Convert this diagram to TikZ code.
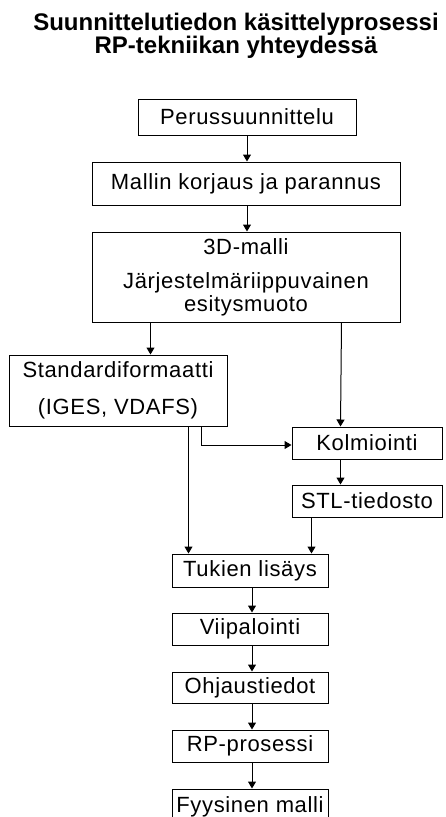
\documentclass[tikz,border=0pt]{standalone}
\usepackage{fontspec}
\setmainfont{Liberation Sans}[LetterSpace=3]
\newfontfamily\titlefont{Liberation Sans}[BoldFont={* Bold}]
\usetikzlibrary{arrows.meta,calc}
\tikzset{
  box/.style={draw, line width=1pt, inner sep=0pt, align=center,
    font=\fontsize{22}{23}\selectfont},
  arr/.style={line width=1pt, -{Triangle[length=7pt,width=8pt]}},
  ln/.style={line width=1pt},
}
\begin{document}
\begin{tikzpicture}[x=1pt,y=-1pt]
\useasboundingbox (0,0) rectangle (446,817);
\clip (0,0) rectangle (446,817);
\node[align=center, font=\titlefont\bfseries\fontsize{24}{20}\selectfont] (title) at (236,36)
  {Suunnittelutiedon käsittelyprosessi\\RP-tekniikan yhteydessä};
\node[box, minimum width=218pt, minimum height=36pt] (perus) at (247,117) {Perussuunnittelu};
\node[box, minimum width=308pt, minimum height=43pt] (mallin) at (246,183.5) {Mallin korjaus ja parannus};
\node[box, minimum width=308pt, minimum height=90pt] (m3d) at (246,277)
  {3D-malli\\[11pt]Järjestelmäriippuvainen\\esitysmuoto};
\node[box, minimum width=218pt, minimum height=71pt] (std) at (118,390.5)
  {Standardiformaatti\\[14pt](IGES, VDAFS)};
\node[box, minimum width=150pt, minimum height=32pt] (kolm) at (367,443) {Kolmiointi};
\node[box, minimum width=150pt, minimum height=32pt] (stl) at (367,501) {STL-tiedosto};
\node[box, minimum width=156pt, minimum height=33pt] (tuk) at (250,570.5) {Tukien lisäys};
\node[box, minimum width=156pt, minimum height=32pt] (viip) at (250,629) {Viipalointi};
\node[box, minimum width=156pt, minimum height=31pt] (ohj) at (250,687.5) {Ohjaustiedot};
\node[box, minimum width=156pt, minimum height=32pt] (rp) at (250,746) {RP-prosessi};
\node[box, minimum width=156pt, minimum height=40pt, text depth=0pt] (fyy) at (250,809) {\raisebox{8pt}{Fyysinen malli}};
% connectors
\draw[arr] (perus.south) -- (perus.south |- mallin.north);
\draw[arr] (mallin.south -| perus.south) -- (perus.south |- m3d.north);
\draw[arr] ([xshift=59pt]m3d.south west) -- ([xshift=142pt]std.north west);
\draw[arr] ([xshift=-59pt]m3d.south east) -- ([xshift=49pt]kolm.north west);
\draw[arr] ([xshift=193pt]std.south west) |- ([yshift=-2pt]kolm.west);
\draw[arr] ([xshift=49pt]kolm.south west) -- ([xshift=49pt]stl.north west);
\draw[arr] ([xshift=180pt]std.south west) -- ([xshift=17pt]tuk.north west);
\draw[arr] ([xshift=20pt]stl.south west) -- ([xshift=140pt]tuk.north west);
\draw[arr] ([xshift=2pt]tuk.south) -- ([xshift=2pt]viip.north);
\draw[arr] ([xshift=2pt]viip.south) -- ([xshift=2pt]ohj.north);
\draw[arr] ([xshift=2pt]ohj.south) -- ([xshift=2pt]rp.north);
\draw[arr] ([xshift=2pt]rp.south) -- ([xshift=2pt]fyy.north);
\end{tikzpicture}
\end{document}
